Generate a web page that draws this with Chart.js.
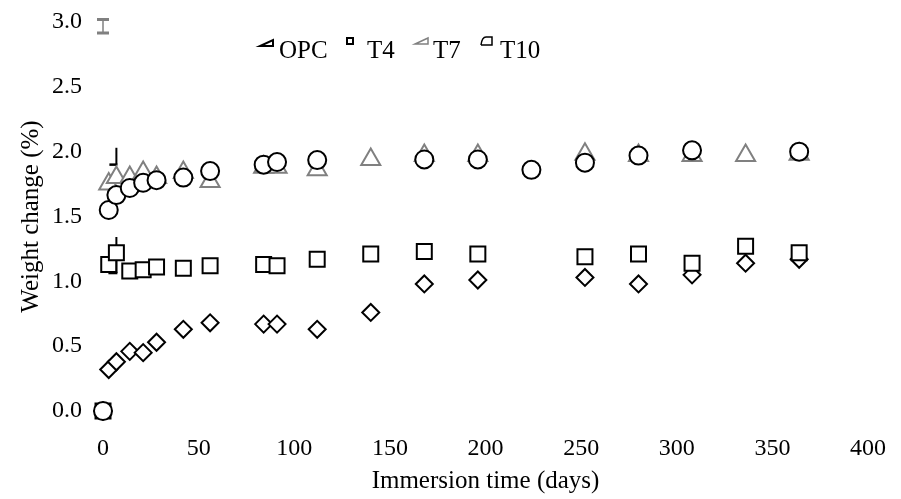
<!DOCTYPE html>
<html>
<head>
<meta charset="utf-8">
<title>Weight change vs immersion time</title>
<script src="https://cdn.jsdelivr.net/npm/chart.js@4/dist/chart.umd.min.js"></script>
<style>
  html, body { margin: 0; padding: 0; background: #fff; }
  #wrap { width: 901px; height: 499px; }
</style>
</head>
<body>
<div id="wrap"><canvas id="chart" width="901" height="499"></canvas></div>
<script>
// Immersion ages (days) and weight change (%) per mix; null = no reading
const days = [0, 3, 7, 14, 21, 28, 42, 56, 84, 91, 112, 140, 168, 196, 224, 252, 280, 308, 336, 364];
const opc  = [0, 0.32, 0.38, 0.46, 0.45, 0.53, 0.63, 0.68, 0.67, 0.67, 0.63, 0.76, 0.98, 1.01, null, 1.03, 0.98, 1.05, 1.14, 1.17];
const t4   = [0, 1.13, 1.22, 1.08, 1.09, 1.11, 1.10, 1.12, 1.13, 1.12, 1.17, 1.21, 1.23, 1.21, null, 1.19, 1.21, 1.14, 1.27, 1.22];
const t7   = [null, 1.75, 1.80, 1.80, 1.84, 1.80, 1.84, 1.77, 1.88, 1.88, 1.86, 1.94, 1.97, 1.97, null, 1.98, 1.97, 1.97, 1.97, 1.98];
const t10  = [0, 1.55, 1.665, 1.72, 1.76, 1.78, 1.80, 1.85, 1.90, 1.92, 1.935, null, 1.94, 1.94, 1.86, 1.915, 1.97, 2.01, null, 2.00];

const seriesNames = ['OPC', 'T4', 'T7', 'T10'];
const xTicks = [0, 50, 100, 150, 200, 250, 300, 350, 400];
const yTicks = [0, 0.5, 1.0, 1.5, 2.0, 2.5, 3.0];

// Error bars (day, lower and upper weight change)
const errDays = [0, 7, 7];
const errLow  = [2.915, 1.90, 1.064];
const errHigh = [3.02, 2.03, 1.342];

const FONT = "'Liberation Serif', 'Times New Roman', serif";
const GREY = '#808080';

function points(values) {
  const out = [];
  values.forEach((v, i) => { if (v !== null) out.push({ x: days[i], y: v }); });
  return out;
}

const markerStyles = [
  { pointStyle: 'rectRot',  pointRadius: 8.5, color: '#000', order: 3 },
  { pointStyle: 'rect',     pointRadius: 10.6, color: '#000', order: 2 },
  { pointStyle: 'triangle', pointRadius: 11,  color: GREY,   order: 1 },
  { pointStyle: 'circle',   pointRadius: 9,   color: '#000', order: 0 }
];

const datasets = [opc, t4, t7, t10].map((vals, i) => ({
  label: seriesNames[i],
  data: points(vals),
  showLine: false,
  pointStyle: markerStyles[i].pointStyle,
  pointRadius: markerStyles[i].pointRadius,
  pointHoverRadius: markerStyles[i].pointRadius,
  pointBorderWidth: 2,
  pointBorderColor: markerStyles[i].color,
  pointBackgroundColor: '#fff',
  order: markerStyles[i].order,
  clip: false
}));

// Error bar drawing (behind the markers)
const errorBars = {
  id: 'errorBars',
  beforeDatasetsDraw(chart, args, opts) {
    const { ctx, scales: { x, y } } = chart;
    ctx.save();
    errDays.forEach((d, i) => {
      const st = opts.styles[i];
      const px = x.getPixelForValue(d);
      const lo = y.getPixelForValue(errLow[i]);
      const hi = y.getPixelForValue(errHigh[i]);
      ctx.strokeStyle = st.color;
      ctx.lineWidth = st.lineWidth;
      ctx.beginPath();
      ctx.moveTo(px, lo);
      ctx.lineTo(px, hi);
      ctx.stroke();
      ctx.lineWidth = st.capWidth;
      ctx.beginPath();
      if (st.caps === 'both') {
        ctx.moveTo(px - st.capHalf, lo); ctx.lineTo(px + st.capHalf, lo);
        ctx.moveTo(px - st.capHalf, hi); ctx.lineTo(px + st.capHalf, hi);
      } else {
        ctx.moveTo(px - st.capHalf, lo); ctx.lineTo(px + 1, lo);
      }
      ctx.stroke();
    });
    ctx.restore();
  }
};

// Legend row drawn inside the plot area
const innerLegend = {
  id: 'innerLegend',
  afterDraw(chart, args, opts) {
    const { ctx, chartArea } = chart;
    ctx.save();
    ctx.font = opts.fontSize + 'px ' + FONT;
    ctx.fillStyle = '#000';
    ctx.textBaseline = 'alphabetic';
    ctx.textAlign = 'left';
    const base = chartArea.top + opts.baselineOffset;
    opts.items.forEach((it, i) => {
      const ix = chartArea.left + it.iconX;
      const iy = chartArea.top + it.iconY;
      ctx.strokeStyle = it.color;
      ctx.lineWidth = it.lineWidth;
      ctx.beginPath();
      if (it.shape === 'wedge') {
        ctx.moveTo(ix, iy + 6);
        ctx.lineTo(ix + 13, iy + 6);
        ctx.lineTo(ix + 13, iy);
        ctx.closePath();
      } else if (it.shape === 'square') {
        ctx.rect(ix, iy, 6, 6);
      } else if (it.shape === 'cap') {
        ctx.moveTo(ix, iy + 8);
        ctx.lineTo(ix + 11, iy + 8);
        ctx.lineTo(ix + 11, iy);
        ctx.lineTo(ix + 5, iy);
        ctx.quadraticCurveTo(ix + 1, iy, ix, iy + 8);
      }
      ctx.stroke();
      ctx.fillText(seriesNames[i], chartArea.left + it.textX, base);
    });
    ctx.restore();
  }
};

// Keep the plot area fixed by ignoring label overflow padding
function noOverflow(s) {
  s.paddingTop = 0; s.paddingBottom = 0; s.paddingLeft = 0; s.paddingRight = 0;
}

new Chart(document.getElementById('chart'), {
  type: 'scatter',
  data: { datasets },
  plugins: [errorBars, innerLegend],
  options: {
    responsive: false,
    animation: false,
    events: [],
    layout: { padding: { top: 22, right: 33, left: 0, bottom: 0 } },
    plugins: {
      legend: { display: false },
      tooltip: { enabled: false },
      errorBars: {
        styles: [
          { color: GREY, lineWidth: 1.5, capWidth: 3, capHalf: 6, caps: 'both' },
          { color: '#000', lineWidth: 2, capWidth: 2.5, capHalf: 7, caps: 'left' },
          { color: '#000', lineWidth: 2, capWidth: 2.5, capHalf: 8, caps: 'left' }
        ]
      },
      innerLegend: {
        fontSize: 25,
        baselineOffset: 36,
        items: [
          { shape: 'wedge',  color: '#000', lineWidth: 2,   iconX: 157, iconY: 18, textX: 176 },
          { shape: 'square', color: '#000', lineWidth: 2,   iconX: 244, iconY: 16, textX: 264 },
          { shape: 'wedge',  color: GREY,   lineWidth: 1.5, iconX: 312, iconY: 16, textX: 330 },
          { shape: 'cap',    color: '#000', lineWidth: 1.5, iconX: 378, iconY: 15, textX: 397 }
        ]
      }
    },
    scales: {
      x: {
        type: 'linear',
        min: xTicks[0],
        max: xTicks[xTicks.length - 1],
        afterBuildTicks: s => { s.ticks = xTicks.map(v => ({ value: v })); },
        afterFit: s => { s.height = 88; noOverflow(s); },
        grid: { display: false, drawTicks: false },
        border: { display: false },
        ticks: { color: '#000', font: { family: FONT, size: 24 }, padding: 23, maxRotation: 0 },
        title: {
          display: true, text: 'Immersion time (days)', color: '#000',
          font: { family: FONT, size: 25 }, padding: { top: 0, bottom: 3 }
        }
      },
      y: {
        type: 'linear',
        min: yTicks[0],
        max: yTicks[yTicks.length - 1],
        afterBuildTicks: s => { s.ticks = yTicks.map(v => ({ value: v })); },
        afterFit: s => { s.width = 103; noOverflow(s); },
        grid: { display: false, drawTicks: false },
        border: { display: false },
        ticks: {
          color: '#000', font: { family: FONT, size: 24 }, padding: 21,
          callback: v => Number(v).toFixed(1)
        },
        title: {
          display: true, text: 'Weight change (%)', color: '#000',
          font: { family: FONT, size: 25 }, padding: { top: 16, bottom: 0 }
        }
      }
    }
  }
});
</script>
</body>
</html>
